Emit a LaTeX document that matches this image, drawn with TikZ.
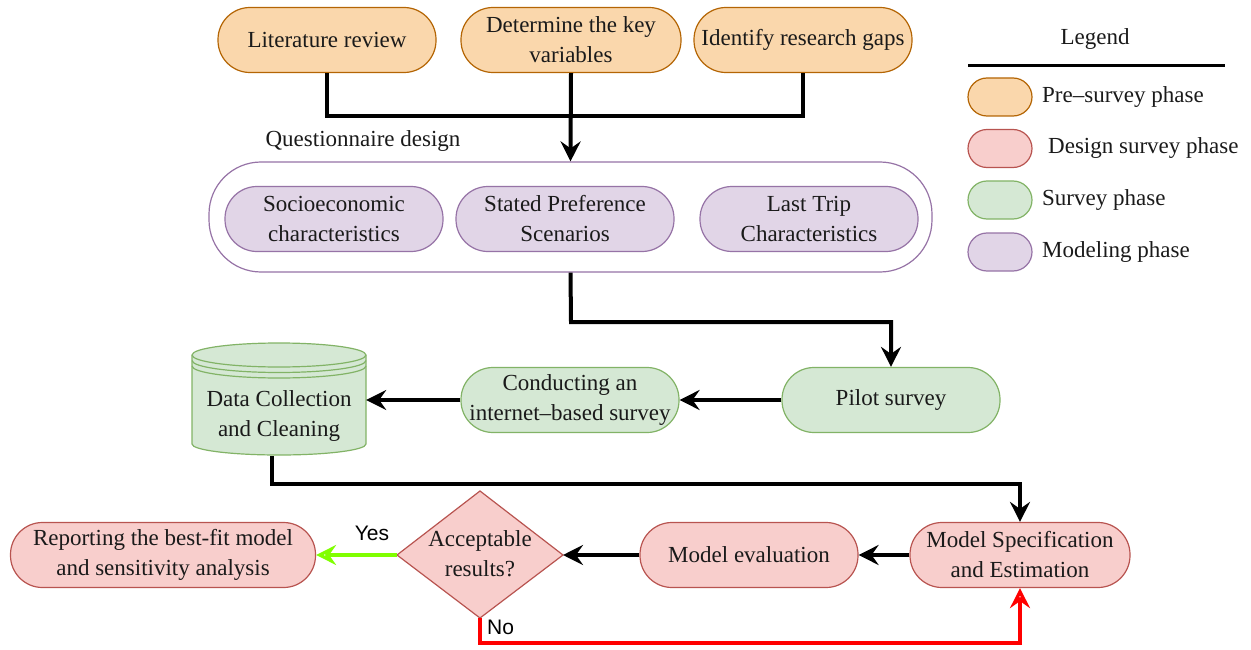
\documentclass[tikz,border=0pt]{standalone}
\usepackage{fontspec}
\setmainfont{Liberation Serif}
\newfontfamily\arialfont{Liberation Sans}
\usetikzlibrary{arrows.meta}
\definecolor{orF}{HTML}{FAD7AC}\definecolor{orD}{HTML}{B46504}
\definecolor{rdF}{HTML}{F8CECC}\definecolor{rdD}{HTML}{B85450}
\definecolor{grF}{HTML}{D5E8D4}\definecolor{grD}{HTML}{82B366}
\definecolor{puF}{HTML}{E1D5E7}\definecolor{puD}{HTML}{9673A6}
\definecolor{yesC}{HTML}{80FF00}
\definecolor{noC}{HTML}{FF0000}
\definecolor{txt}{HTML}{1A1A1A}
\begin{document}
\begin{tikzpicture}[x=1pt,y=-1pt,
 pill/.style={rectangle, rounded corners=32pt, minimum width=218pt, minimum height=65pt, align=center, inner sep=0pt, line width=1.2pt, text=txt, font=\fontsize{23}{30}\selectfont},
 pre/.style={pill, fill=orF, draw=orD},
 des/.style={pill, fill=rdF, draw=rdD},
 sur/.style={pill, fill=grF, draw=grD},
 mod/.style={pill, fill=puF, draw=puD},
 flow/.style={line width=4pt, black},
 arr/.style={flow, -{Stealth[length=20pt,width=20pt,inset=7pt]}},
 openarr/.style={-{Stealth[open,length=20pt,width=20pt,inset=7pt]}},
 leg/.style={rectangle, rounded corners=19pt, minimum width=64pt, minimum height=38pt, inner sep=0pt, line width=1.2pt},
 lbl/.style={font=\fontsize{23}{30}\selectfont, text=txt, inner sep=0pt},
 sans/.style={font=\arialfont\fontsize{21}{24}\selectfont, inner sep=0pt}
]
\useasboundingbox (0,0) rectangle (1251,650);

% top row
\node[pre] (lit) at (327,40) {Literature review};
\node[pre, minimum width=220pt] (key) at (571,40) {Determine the key\\variables};
\node[pre] (gap) at (803,40) {Identify research gaps};

% questionnaire container
\node[lbl] (qdlabel) at (363,141) {Questionnaire design};
\node[draw=puD, fill=white, line width=1.2pt, rounded corners=52pt, minimum width=723pt, minimum height=110pt, inner sep=0pt] (qd) at (570.5,217) {};
\node[mod] (soc) at (334,219) {Socioeconomic\\characteristics};
\node[mod] (sp) at (565,219) {Stated Preference\\Scenarios};
\node[mod] (ltc) at (809,219) {Last Trip\\Characteristics};

\coordinate (join) at (571,116);
\draw[flow] (lit.south) |- (join) -| (gap.south);
\draw[arr] (key.south) -- (qd.north);

% survey row
\node[sur] (pilot) at (891,400) {Pilot survey};
\node[sur] (cond) at (570,400) {Conducting an\\internet–based survey};

% cylinder
\node[minimum width=174pt, minimum height=116pt, inner sep=0pt] (dc) at (279,400) {};
\draw[grD, fill=grF, line width=1.2pt]
  (192,355) -- (192,444)
  .. controls (192,450.1) and (231,455) .. (279,455)
  .. controls (327,455) and (366,450.1) .. (366,444)
  -- (366,355)
  .. controls (366,348.4) and (327,343) .. (279,343)
  .. controls (231,343) and (192,348.4) .. (192,355) -- cycle;
\foreach \s in {0,5.5,11}{
  \draw[grD, line width=1.2pt, shift={(0,\s)}]
    (192,355) .. controls (192,361.6) and (231,367) .. (279,367)
    .. controls (327,367) and (366,361.6) .. (366,355);
}
\node[lbl, align=center] (dctext) at (279,416) {Data Collection\\and Cleaning};

\coordinate (bend1) at (571,322);
\draw[arr] (qd.south) -- (bend1) -| (pilot.north);
\draw[arr] (pilot.west) -- (cond.east);
\draw[arr] (cond.west) -- (dc.east);

% modelling row
\node[des, minimum width=220pt] (spec) at (1020,555) {Model Specification\\and Estimation};
\node[des] (eval) at (749,555) {Model evaluation};
\node[des, minimum width=305pt] (rep) at (163,555) {Reporting the best-fit model\\and sensitivity analysis};

\draw[rdD, fill=rdF, line width=1.2pt] (480,491) -- (563,555) -- (480,618) -- (397,555) -- cycle;
\node[lbl, align=center] (dec) at (480,554) {Acceptable\\results?};
\coordinate (decW) at (397,555);
\coordinate (decE) at (563,555);
\coordinate (decS) at (480,618);
\coordinate (dcS) at (272,456);

\coordinate (bend2) at (272,484);
\draw[arr] (dcS) -- (bend2) -| (spec.north);
\draw[arr] (spec.west) -- (eval.east);
\draw[arr] (eval.west) -- (decE);
\draw[openarr, yesC, line width=4.5pt] (decW) -- (rep.east);
\node[sans] (yes) at (372,533) {Yes};
\coordinate (bend3) at (480,643);
\draw[openarr, noC, line width=3.5pt] (decS) -- (bend3) -| (spec.south);
\node[sans, anchor=west] (no) at (487,627) {No};

% legend
\node[lbl] (legtitle) at (1095,39) {Legend};
\coordinate (legL) at (968,66);
\coordinate (legR) at (1225,66);
\draw[line width=3pt] (legL) -- (legR);
\node[leg, fill=orF, draw=orD] (l1) at (1000,97) {};
\node[leg, fill=rdF, draw=rdD] (l2) at (1000,148.5) {};
\node[leg, fill=grF, draw=grD] (l3) at (1000,200) {};
\node[leg, fill=puF, draw=puD] (l4) at (1000,252) {};
\node[lbl, anchor=west] (t1) at (1042,97) {Pre–survey phase};
\node[lbl, anchor=west] (t2) at (1048,148.5) {Design survey phase};
\node[lbl, anchor=west] (t3) at (1042,200) {Survey phase};
\node[lbl, anchor=west] (t4) at (1042,252) {Modeling phase};
\end{tikzpicture}
\end{document}
